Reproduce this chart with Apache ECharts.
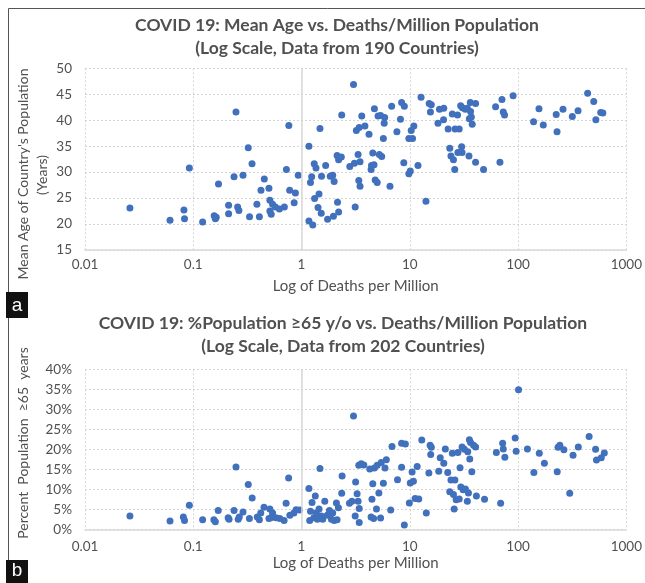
<!DOCTYPE html>
<html>
<head>
<meta charset="utf-8">
<script src="https://cdn.jsdelivr.net/npm/echarts@6/dist/echarts.min.js"></script>
<style>
  html, body { margin: 0; padding: 0; background: #fff; }
  #main { width: 645px; height: 583px; }
</style>
</head>
<body>
<div id="main"></div>
<script>
// panel a: deaths per million vs mean age
const ageDeaths = [0.026, 0.061, 0.082, 0.083, 0.092, 0.122, 0.156, 0.16, 0.163, 0.171, 0.212, 0.212, 0.238, 0.248, 0.257, 0.264, 0.288, 0.322, 0.331, 0.349, 0.387, 0.408, 0.422, 0.453, 0.50, 0.51, 0.51, 0.525, 0.54, 0.573, 0.625, 0.694, 0.725, 0.763, 0.777, 0.855, 0.878, 0.933,
  1.17, 1.17, 1.21, 1.24, 1.27, 1.31, 1.36, 1.32, 1.45, 1.42, 1.48, 1.52, 1.53, 1.67, 1.74, 1.84, 1.94, 1.97, 2.0, 2.15, 2.2, 2.13, 2.2, 2.33, 2.35, 2.79, 3.02, 3.08, 3.13, 3.21, 3.33, 3.38, 3.47, 3.47, 3.41, 3.6, 3.85, 4.2, 4.39, 4.43, 4.55, 4.67, 4.71, 4.79, 5.0, 5.09, 5.23, 5.37, 5.8, 5.86, 5.7, 6.56, 6.8, 7.6, 8.2, 8.4, 8.9, 8.8, 9.8, 10.1, 9.8, 10.3, 10.6, 10.9, 11.9, 12.7, 14.1, 15.1, 15.8, 15.5, 18.2, 18.8, 20.5, 20.6, 22.6, 23.4, 24.0, 24.7, 25.3, 26, 26.2, 27.6, 27.8, 28.6, 29.5, 30.1, 30.4, 30.6, 32.5, 34.0, 35.2, 35.5, 36.2, 36.4, 37.7, 37, 40.5, 40.5, 48, 62, 68, 71, 73, 75, 90, 139, 156, 171, 225, 229, 260, 317, 358, 439, 500, 523, 580, 607, 5.5];
const ageYears = [23.1, 20.75, 22.7, 21.0, 30.8, 20.4, 21.6, 21.0, 21.3, 27.7, 23.6, 22.0, 29.1, 41.6, 23.3, 22.6, 29.4, 34.7, 21.4, 31.6, 23.8, 21.4, 26.5, 28.7, 26.9, 24.6, 22.5, 21.9, 23.8, 23.3, 22.9, 23.3, 30.5, 39.0, 26.5, 24.1, 26.0, 29.4,
  35.0, 20.6, 28.0, 29.1, 19.8, 31.6, 30.8, 24.9, 25.8, 23.2, 38.4, 22.1, 29.2, 31.3, 20.9, 29.2, 29.4, 21.5, 28.2, 24.2, 22.3, 33.2, 32.4, 32.9, 41.0, 31.1, 46.9, 31.7, 23.3, 38.0, 33.4, 28.4, 32.0, 27.3, 38.6, 40.8, 38.9, 37.3, 30.5, 31.3, 33.7, 31.4, 42.2, 28.5, 28.0, 40.8, 33.4, 40.9, 39.4, 40.5, 36.5, 27.3, 42.7, 37.8, 40.2, 43.4, 42.7, 31.8, 29.7, 30.2, 36.5, 38.0, 36.5, 38.9, 31.3, 44.4, 24.4, 43.2, 43.0, 41.6, 39.4, 42.1, 40.1, 42.3, 38.3, 34.6, 33.1, 41.2, 32.4, 30.5, 38.3, 41.0, 33.8, 38.3, 42.8, 34.9, 33.8, 42.4, 42.1, 42.3, 33.1, 40.3, 43.4, 41.7, 39.2, 40.6, 43.2, 31.9, 30.5, 42.6, 31.9, 44.0, 41.6, 41.0, 44.7, 39.7, 42.2, 39.1, 41.1, 37.8, 42.1, 40.7, 41.8, 45.2, 43.6, 40.1, 41.5, 41.4, 33.0];

// panel b: deaths per million vs % population aged 65+
const oldDeaths = [0.026, 0.061, 0.081, 0.083, 0.092, 0.122, 0.155, 0.16, 0.17, 0.21, 0.214, 0.238, 0.248, 0.26, 0.266, 0.288, 0.322, 0.33, 0.35, 0.39, 0.408, 0.42, 0.45, 0.5, 0.51, 0.52, 0.54, 0.58, 0.63, 0.69, 0.72, 0.76, 0.78, 0.85, 0.89, 0.96,
  1.17, 1.19, 1.21, 1.25, 1.3, 1.34, 1.37, 1.4, 1.45, 1.48, 1.52, 1.57, 1.64, 1.73, 1.81, 1.89, 1.94, 2.0, 2.1, 2.13, 2.19, 2.35, 2.37, 2.77, 2.92, 3.02, 3.13, 3.16, 3.26, 3.33, 3.41, 3.41, 3.38, 3.56, 3.76, 4.27, 4.39, 4.47, 4.55, 4.63, 4.71, 4.92, 5.0, 5.18, 5.37, 5.45, 5.7, 5.9, 6.07, 6.66, 6.85, 7.7, 8.4, 8.4, 8.9, 9.1, 9.9, 10.1, 10.5, 10.8, 11.7, 11.2, 12.1, 12.9, 14.2, 15.0, 15.4, 15.6, 15.8, 18.5, 19.1, 20.6, 21.3, 22.4, 23.4, 24, 24.7, 25.3, 25.7, 26.1, 26.8, 27.8, 28.6, 29.1, 29.6, 30.4, 31.1, 31.9, 32.6, 34, 34.3, 34.8, 35.5, 35.8, 36.4, 37.4, 38.8, 40.5, 41.2, 49, 63, 69, 72, 73, 75.5, 94, 96, 101, 122, 140, 157, 175, 230, 234, 243, 265, 300, 322, 360, 453, 520, 530, 587, 626];
const oldPct = [3.3, 2.1, 3.1, 2.2, 6.0, 2.4, 2.4, 1.9, 4.7, 2.9, 2.5, 4.7, 15.6, 2.5, 3.1, 4.3, 11.2, 2.7, 7.8, 3.1, 2.4, 4.1, 5.5, 2.7, 5.1, 2.9, 4.1, 2.9, 2.7, 2.2, 6.5, 12.8, 3.5, 4.1, 4.9, 4.8,
  10.2, 2.2, 4.5, 6.7, 2.9, 8.3, 4.1, 2.5, 5.1, 15.2, 3.3, 2.5, 7.0, 3.5, 4.7, 2.5, 4.1, 2.2, 6.6, 2.4, 5.4, 9.0, 13.3, 6.5, 7.0, 28.3, 3.3, 11.8, 8.9, 7.0, 5.2, 1.7, 16.0, 16.4, 16.1, 15.1, 3.1, 7.5, 11.4, 2.7, 15.3, 5.1, 16.0, 9.1, 2.8, 16.7, 11.5, 15.3, 17.4, 4.8, 20.7, 12.4, 15.5, 21.5, 1.1, 21.3, 6.6, 11.6, 14.3, 12.0, 15.7, 7.7, 7.6, 22.3, 4.1, 14.1, 21.0, 18.7, 20.5, 14.5, 17.9, 16.5, 20.1, 14.2, 9.4, 12.3, 19.0, 8.7, 5.1, 12.3, 7.4, 19.2, 7.6, 15.4, 10.6, 20.6, 9.9, 20.0, 10.1, 7.0, 19.4, 9.1, 22.4, 17.6, 21.7, 14.4, 21.0, 20.6, 8.3, 7.5, 19.2, 6.5, 21.5, 20.1, 18.0, 22.8, 19.5, 34.9, 20.1, 14.2, 19.0, 16.5, 14.4, 20.5, 21.0, 19.9, 9.0, 18.5, 20.6, 23.2, 20.0, 17.3, 17.9, 19.1];

const xTickLabels = ['0.01', '0.1', '1', '10', '100', '1000'];

const FONT = 'Lato, "Liberation Sans", sans-serif';
const TEXT = '#505050';
const DOT = '#4170bd';
const GRID = '#d4d4d4';

const zip = (xs, ys) => xs.map((x, i) => [x, ys[i]]);

const chart = echarts.init(document.getElementById('main'), null, { renderer: 'canvas' });

const xAxisBase = (gridIndex, labelMargin, nameGap) => ({
  type: 'log',
  logBase: 10,
  gridIndex: gridIndex,
  min: 0.01,
  max: 1000,
  name: 'Log of Deaths per Million',
  nameLocation: 'middle',
  nameGap: nameGap,
  nameTextStyle: { color: TEXT, fontFamily: FONT, fontSize: 15 },
  axisLine: { show: true, lineStyle: { color: '#d9d9d9', width: 1.5 } },
  axisTick: { show: false },
  axisLabel: {
    color: TEXT, fontFamily: FONT, fontSize: 13.5, margin: labelMargin,
    formatter: v => xTickLabels[Math.round(Math.log10(v)) + 2]
  },
  splitLine: { show: true, lineStyle: { color: GRID, type: [2, 2], width: 1 } }
});

const yAxisBase = (gridIndex, min, max, fmt) => ({
  type: 'value',
  gridIndex: gridIndex,
  min: min,
  max: max,
  interval: 5,
  axisLine: { show: false },
  axisTick: { show: false },
  axisLabel: { color: TEXT, fontFamily: FONT, fontSize: 13.5, margin: 13, formatter: fmt },
  splitLine: { show: true, lineStyle: { color: GRID, type: [2, 2], width: 1 } }
});

const oneLine = {
  silent: true,
  symbol: 'none',
  label: { show: false },
  lineStyle: { color: '#d9d9d9', type: 'solid', width: 1.5 },
  data: [{ xAxis: 1 }]
};

const titleStyle = { color: TEXT, fontFamily: FONT, fontSize: 17.5, fontWeight: 'bold', lineHeight: 23 };

const option = {
  animation: false,
  backgroundColor: '#fff',
  title: [
    {
      text: 'COVID 19: Mean Age vs. Deaths/Million Population\n(Log Scale, Data from 190 Countries)',
      left: 337, top: 14, padding: 0, textAlign: 'center',
      textStyle: titleStyle
    },
    {
      text: 'COVID 19: %Population ≥65 y/o vs. Deaths/Million Population\n(Log Scale, Data from 202 Countries)',
      left: 343, top: 312, padding: 0, textAlign: 'center',
      textStyle: titleStyle
    }
  ],
  grid: [
    { left: 85, right: 18.5, top: 68.3, height: 181.7 },
    { left: 85, right: 18.5, top: 369.3, height: 160 }
  ],
  xAxis: [xAxisBase(0, 8, 29), xAxisBase(1, 10, 26)],
  yAxis: [
    yAxisBase(0, 15, 50, v => String(v)),
    yAxisBase(1, 0, 40, v => v + '%')
  ],
  series: [
    {
      type: 'scatter', xAxisIndex: 0, yAxisIndex: 0,
      symbolSize: 7, itemStyle: { color: DOT, opacity: 1 },
      data: zip(ageDeaths, ageYears),
      markLine: oneLine
    },
    {
      type: 'scatter', xAxisIndex: 1, yAxisIndex: 1,
      symbolSize: 7, itemStyle: { color: DOT, opacity: 1 },
      data: zip(oldDeaths, oldPct),
      markLine: oneLine
    }
  ],
  graphic: [
    // outer frame
    { type: 'rect', left: 6, top: 6, shape: { width: 700, height: 640 }, style: { fill: 'none', stroke: '#555', lineWidth: 1 }, silent: true },
    // y axis titles
    { type: 'text', x: 23, y: 174, rotation: Math.PI / 2,
      style: { text: "Mean Age of Country's Population", fill: TEXT, font: '14px ' + FONT, align: 'center', verticalAlign: 'middle' } },
    { type: 'text', x: 42, y: 175, rotation: Math.PI / 2,
      style: { text: '(Years)', fill: TEXT, font: '14px ' + FONT, align: 'center', verticalAlign: 'middle' } },
    { type: 'text', x: 23, y: 443, rotation: Math.PI / 2,
      style: { text: 'Percent  Population  ≥65  years', fill: TEXT, font: '14px ' + FONT, align: 'center', verticalAlign: 'middle' } },
    // panel labels
    { type: 'rect', left: 6, top: 292, shape: { width: 22, height: 26 }, style: { fill: '#111' } },
    { type: 'text', x: 17, y: 306, style: { text: 'a', fill: '#fff', font: '19px "Liberation Sans", sans-serif', align: 'center', verticalAlign: 'middle' } },
    { type: 'rect', left: 6, top: 560, shape: { width: 22, height: 24 }, style: { fill: '#111' } },
    { type: 'text', x: 17, y: 571, style: { text: 'b', fill: '#fff', font: '19px "Liberation Sans", sans-serif', align: 'center', verticalAlign: 'middle' } }
  ]
};

chart.setOption(option);
</script>
</body>
</html>
